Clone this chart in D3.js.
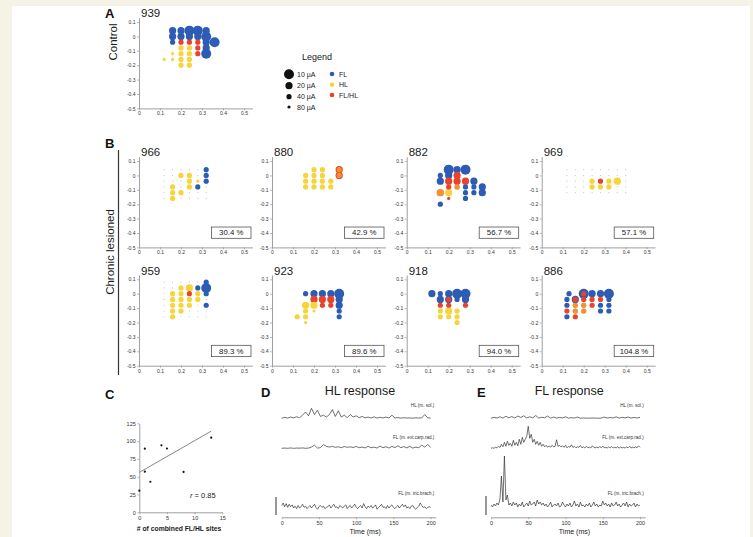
<!DOCTYPE html>
<html>
<head>
<meta charset="utf-8">
<script src="https://cdn.jsdelivr.net/npm/d3@7"></script>
<style>
  body { margin: 0; background: #f5f3e6; }
  svg text { font-family: "Liberation Sans", Arial, Helvetica, sans-serif; }
</style>
</head>
<body>
<svg id="chart"></svg>
<script>
const FL = "FL", HL = "HL", FH = "FL/HL"

// stimulation sites: [x, y, response, threshold (µA)]
const sites939 = [
  [0.16, 0.04, FL, 20], [0.16, 0, FL, 20], [0.16, -0.04, FL, 40],
  [0.2, 0.04, FL, 20], [0.2, 0, FL, 20],
  [0.24, 0.04, FL, 10], [0.24, 0, FL, 20],
  [0.28, 0.04, FL, 10], [0.28, 0, FL, 20],
  [0.32, 0.04, FL, 20], [0.32, 0, FL, 10], [0.32, -0.04, FL, 20],
  [0.36, -0.04, FL, 10], [0.32, -0.08, FL, 20], [0.32, -0.12, FL, 10],
  [0.2, -0.04, FH, 40], [0.24, -0.04, FH, 40], [0.28, -0.04, FH, 40],
  [0.28, -0.08, FH, 40], [0.28, -0.12, FH, 40],
  [0.2, -0.08, HL, 40], [0.2, -0.12, HL, 40], [0.2, -0.16, HL, 40], [0.2, -0.2, HL, 40],
  [0.16, -0.12, HL, 80], [0.16, -0.16, HL, 80], [0.12, -0.16, HL, 80],
  [0.24, -0.08, HL, 40], [0.24, -0.12, HL, 40], [0.24, -0.16, HL, 40], [0.24, -0.2, HL, 40],
]
const sites966 = [
  [0.32, 0.04, FL, 40], [0.32, 0, FL, 40], [0.32, -0.04, FL, 40], [0.28, -0.08, FL, 40],
  [0.2, 0, HL, 40], [0.24, 0, HL, 40], [0.24, -0.04, HL, 40], [0.24, -0.08, HL, 40],
  [0.28, -0.04, HL, 80], [0.16, -0.08, HL, 40], [0.16, -0.12, HL, 40],
  [0.16, -0.16, HL, 40], [0.2, -0.12, HL, 40],
]
const sites880 = [
  [0.16, 0, HL, 40], [0.16, -0.04, HL, 40], [0.16, -0.08, HL, 40],
  [0.2, 0.04, HL, 40], [0.2, 0, HL, 40], [0.2, -0.04, HL, 40], [0.2, -0.08, HL, 40],
  [0.24, 0.04, HL, 40], [0.24, 0, HL, 40], [0.24, -0.04, HL, 40], [0.24, -0.08, HL, 40],
  [0.28, -0.04, HL, 40], [0.28, -0.08, HL, 40],
  [0.32, 0.04, FH, 20], [0.32, 0, FH, 20],
  [0.32, 0.04, HL, 40], [0.32, 0, HL, 40],
]
const sites882 = [
  [0.16, 0, FL, 40], [0.16, -0.04, FL, 20], [0.2, 0.04, FL, 10], [0.2, 0, FL, 20],
  [0.24, 0.04, FL, 20], [0.28, 0.04, FL, 10],
  [0.32, -0.04, FL, 20], [0.32, -0.08, FL, 40], [0.32, -0.12, FL, 40],
  [0.36, -0.08, FL, 20], [0.36, -0.12, FL, 20],
  [0.28, -0.08, FL, 40], [0.28, -0.12, FL, 40], [0.28, -0.16, FL, 40], [0.16, -0.2, FL, 40],
  [0.24, 0, FH, 20], [0.2, -0.04, FH, 20], [0.24, -0.04, FH, 20], [0.28, -0.04, FH, 20],
  [0.2, -0.08, FH, 40], [0.24, -0.08, FH, 40], [0.16, -0.12, FH, 20], [0.2, -0.16, FH, 80],
  [0.24, -0.08, HL, 40], [0.16, -0.12, HL, 20],
  [0.2, -0.12, HL, 20],
]
const sites969 = [
  [0.24, -0.04, HL, 40], [0.24, -0.08, HL, 40], [0.28, -0.08, HL, 40],
  [0.32, -0.04, HL, 40], [0.32, -0.08, HL, 40], [0.36, -0.04, HL, 20],
  [0.28, -0.04, FH, 40],
]
const sites959 = [
  [0.32, 0.08, FL, 40], [0.32, 0.04, FL, 10], [0.28, 0.04, FL, 40],
  [0.32, 0, FL, 40], [0.32, -0.08, FL, 40],
  [0.24, 0, FH, 40],
  [0.16, 0, HL, 40], [0.16, -0.04, HL, 40], [0.16, -0.08, HL, 40],
  [0.16, -0.12, HL, 40], [0.16, -0.16, HL, 40],
  [0.2, 0.04, HL, 40], [0.2, 0, HL, 40], [0.2, -0.04, HL, 40],
  [0.2, -0.08, HL, 40], [0.2, -0.12, HL, 40],
  [0.24, 0.04, HL, 20], [0.24, -0.04, HL, 40], [0.24, -0.08, HL, 40],
  [0.28, 0, HL, 40], [0.28, -0.04, HL, 40],
]
const sites923 = [
  [0.16, 0, FL, 40], [0.2, 0, FL, 20], [0.24, 0, FL, 20], [0.28, 0, FL, 20], [0.32, 0, FL, 10],
  [0.32, -0.04, FL, 20], [0.32, -0.08, FL, 20], [0.32, -0.12, FL, 40], [0.32, -0.16, FL, 40],
  [0.2, -0.04, FH, 20], [0.24, -0.04, FH, 20], [0.28, -0.04, FH, 20],
  [0.24, -0.08, FH, 40], [0.28, -0.08, FH, 40],
  [0.16, -0.08, HL, 20], [0.2, -0.08, HL, 20], [0.16, -0.12, HL, 40], [0.2, -0.12, HL, 80],
  [0.12, -0.16, HL, 40], [0.16, -0.16, HL, 40], [0.16, -0.2, HL, 80],
]
const sites918 = [
  [0.12, 0, FL, 20], [0.16, 0, FL, 40], [0.16, -0.04, FL, 20], [0.2, 0, FL, 20],
  [0.24, 0, FL, 10], [0.28, 0, FL, 10], [0.24, -0.04, FL, 40], [0.28, -0.04, FL, 20],
  [0.2, -0.04, FL, 20],
  [0.2, -0.04, FH, 40], [0.16, -0.08, FH, 40], [0.2, -0.08, FH, 40], [0.28, -0.08, FH, 40],
  [0.16, -0.12, HL, 40], [0.2, -0.12, HL, 20], [0.24, -0.12, HL, 40],
  [0.16, -0.16, HL, 40], [0.2, -0.16, HL, 40], [0.24, -0.16, HL, 40], [0.24, -0.2, HL, 40],
]
const sites886 = [
  [0.13, 0, FL, 40], [0.2, 0, FL, 10], [0.24, 0, FL, 20], [0.28, 0, FL, 20], [0.32, 0, FL, 10],
  [0.12, -0.04, FL, 40], [0.16, -0.04, FL, 20], [0.32, -0.04, FL, 40],
  [0.12, -0.08, FL, 40], [0.28, -0.08, FL, 40], [0.32, -0.08, FL, 40],
  [0.28, -0.12, FL, 40], [0.32, -0.12, FL, 40], [0.12, -0.16, FL, 40],
  [0.2, 0, FH, 40], [0.16, -0.04, FH, 40], [0.2, -0.04, FH, 40], [0.24, -0.04, FH, 40],
  [0.28, -0.04, FH, 40], [0.16, -0.08, FH, 40], [0.2, -0.08, FH, 40], [0.24, -0.08, FH, 40],
  [0.12, -0.12, FH, 40], [0.16, -0.12, FH, 40], [0.2, -0.12, FH, 40], [0.16, -0.16, FH, 40],
  [0.16, -0.08, HL, 40], [0.2, -0.08, HL, 40], [0.16, -0.12, HL, 40], [0.2, -0.12, HL, 40],
]

// non-responsive tested grid (shown as faint dots)
const grid966 = { xs: [0.12, 0.16, 0.2, 0.24, 0.28, 0.32], ys: [0.04, 0, -0.04, -0.08, -0.12, -0.16] }
const grid969 = { xs: [0.12, 0.16, 0.2, 0.24, 0.28, 0.32, 0.36, 0.4], ys: [0.04, 0, -0.04, -0.08, -0.12] }
const grid959 = { xs: [0.12, 0.16, 0.2, 0.24, 0.28, 0.32], ys: [0.08, 0.04, 0, -0.04, -0.08, -0.12, -0.16] }

const lesionedAnimals = ["966", "880", "882", "969", "959", "923", "918", "886"]
const lesionedSites = [sites966, sites880, sites882, sites969, sites959, sites923, sites918, sites886]
const lesionedGrids = [grid966, null, null, grid969, grid959, null, null, null]
const recoveryPct = [30.4, 42.9, 56.7, 57.1, 89.3, 89.6, 94.0, 104.8]

const mapTicksX = [0, 0.1, 0.2, 0.3, 0.4, 0.5]
const mapTicksY = [0.1, 0, -0.1, -0.2, -0.3, -0.4, -0.5]

const legendCurrents = [10, 20, 40, 80]
const legendTypes = [FL, HL, FH]

// panel C
const combinedSites = [0, 2, 8, 1, 1, 5, 4, 13]
const recoveryC = [30.4, 42.9, 56.7, 57.1, 89.3, 89.6, 94.0, 104.8]
const fitLine = [[0, 56], [13, 114]]
const ticksCX = [0, 5, 10, 15]
const ticksCY = [0, 25, 50, 75, 100, 125]

// panels D / E, EMG traces (a.u.), sampled every dt ms
const emgLabels = ["HL (m. sol.)", "FL (m. ext.carp.rad.)", "FL (m. tric.brach.)"]
const hlSol_D = [0,0.8,0.2,1,0.3,1.2,0.5,2.5,5,2,8,3,6.5,1.5,2.5,1,3,7,1.5,6,1,2.5,0.5,3,1,2,0.5,1.5,0.3,1,0.2,1.2,0.2,0.8,0.3,1,0.2,2.5,0.2,0.6,0.1,0.5,0.2,0.3,0.1,0.4,0.2,0.3,3,0.3,0.2]
const flExt_D = [0,0.2,0,0.3,0,0.2,0.1,0.3,0,0.2,1,2.5,0.2,0.5,3,1.5,1,1.5,0.8,1.2,0.5,1.4,0.8,1.2,0.6,1.5,0.5,1,0.3,1.6,0.4,1,0.2,1.8,0.4,1.3,0.2,1.5,0.6,2,0.5,1.4,0.3,1.6,0.2,0.9,0.5,2.5,1,3,0.8]
const flTric_D = [2,4,1,3.5,0.5,3,1,2.5,0,1.5,-0.5,2,0,1,3,0.5,1.5,-0.5,0.8,2,0,1.5,3,0.5,-1,1,2,0.5,1.5,-0.5,0.5,1,2.5,0,1.5,3,0.5,1,-0.5,2,1,0,1.5,2.5,-0.5,1,2,0,1.5,3,0.5,-0.5,1,2,0,3.5,1,-0.5,1.5,0.5,2,0,1,2.5,-1,0.5,1.5,3,0.5,1,-0.5,2,0,1.5,2.5,0.5,-0.5,1,2,0,1.5,3,1,2.5,0,1,-0.5,1.5,2,0,-1,0.5,1.5,4,2,0.5,1,-0.5,0.5,1,0.5]
const hlSol_E = [0,1,0.3,1.5,0.2,2,0.5,1.8,0.3,2.2,0.8,2.5,0.4,1.5,0.5,2.8,0.3,1,0.6,2.2,0.2,1.2,0.3,0.8,0.4,1.5,0.2,0.6,0.3,1.2,0.1,0.3,0.2,0.1,0.3,0.2,0.1,0.2,1.2,0.2,0.8,0.3,1.5,0.2,1,0.4,1.3,0.2,0.9,0.3,1]
const flExt_E = [0,0.5,0,1,0.4, 2,0.8,4,1.5,6, 2,7,3,5,2, 8,3,6,2.5,9, 4,11,6,9,12, 22,10,14,6,9, 4,7,3,6,2, 4,1.5,3,1,2.5, 1,3,1.5,2,8.5, 2,3,1.5,2.5,1, 3,0.5,2,1,3.5, 0.8,2,0.5,1.5,1, 2.8,0.5,1.5,0.3,2, 0.6,1.2,0.4,2.5,1, 0.5,1.2,0.3,1.8,0.5, 2.2,0.4,1,0.3,1.5, 0.5,1.8,0.3,1,0.5, 1.5,0.2,1.2,0.4,0.8, 0.3,1.4,0.5,2,0.3, 1,0.4,1.6,0.5,2.5, 1]
const flTric_E = [3,1,4,2,5, 3,9,32,6,52, 8,13,3,5,2, 6,3,5,1,4, 2,6,1,3,5, 2,7,3,4,6, 2,8,4,6,3, 5,2,4,1,3, 6,1,3,4,2, 5,1,2,6,3, 1,4,2,5,1, 3,7,2,4,1, 6,2,3,1,4, 2,5,1,3,6, 2,4,1,3,2, 7,3,5,2,4, 1,5,2,3,6, 2,4,1,3,5, 2,6,1,4,2, 3,5,1,4,2, 3]
const tracesD = [{ v: hlSol_D, dt: 4 }, { v: flExt_D, dt: 4 }, { v: flTric_D, dt: 2 }]
const tracesE = [{ v: hlSol_E, dt: 4 }, { v: flExt_E, dt: 2 }, { v: flTric_E, dt: 2 }]
const timeTicks = [0, 50, 100, 150, 200]

// ---------------------------------------------------------------
const width = 753, height = 537
const ink = "#1a1a1a"
const svg = d3.select("#chart").attr("width", width).attr("height", height)
svg.append("rect").attr("width", width).attr("height", height).attr("fill", "#f5f3e6")
svg.append("rect").attr("x", 12).attr("y", 6).attr("width", 738).attr("height", height - 6).attr("fill", "#fff")

const color = d3.scaleOrdinal().domain([FL, HL, FH]).range(["#2d5cb5", "#f5d43c", "#e8432c"])
const radius = d3.scaleOrdinal().domain([10, 20, 40, 80]).range([5, 3.6, 2.6, 1.6])

const mapX = d3.scaleLinear().domain([0, 0.54]).range([0, 113.4])
const mapY = d3.scaleLinear().domain([-0.5, 0.13]).range([90.7, 0])
const fmt = d => String(+d.toFixed(1))

function styleAxis(g, fontSize) {
  g.selectAll(".domain").attr("stroke", "#888").attr("stroke-width", 0.8)
  g.selectAll(".tick line").attr("stroke", "#888").attr("stroke-width", 0.6)
  g.selectAll(".tick text").attr("font-size", fontSize).attr("fill", "#333")
    .style("font-family", "'Liberation Sans', Arial, sans-serif")
}

function drawMap(x0, y0, animal, sites, grid, pct) {
  const g = svg.append("g").attr("transform", `translate(${x0},${y0})`)

  g.append("g")
    .call(d3.axisLeft(mapY).tickValues(mapTicksY).tickSize(2).tickSizeOuter(0).tickPadding(1.5).tickFormat(fmt))
    .call(a => styleAxis(a, 5))
  g.append("g")
    .attr("transform", `translate(0,${mapY(-0.5)})`)
    .call(d3.axisBottom(mapX).tickValues(mapTicksX).tickSize(2).tickSizeOuter(0).tickPadding(1.5).tickFormat(fmt))
    .call(a => styleAxis(a, 5))

  if (grid) {
    const taken = new Set(sites.map(s => s[0] + "," + s[1]))
    const empty = d3.cross(grid.xs, grid.ys).filter(([x, y]) => !taken.has(x + "," + y))
    g.append("g").selectAll("circle")
      .data(empty)
      .join("circle")
        .attr("cx", d => mapX(d[0]))
        .attr("cy", d => mapY(d[1]))
        .attr("r", 0.6)
        .attr("fill", "#c9c9c9")
  }

  // HL responses at a site that also gave FL/HL are blended over the red dot
  const fhKeys = new Set(sites.filter(s => s[2] === FH).map(s => s[0] + "," + s[1]))
  const sorted = sites.slice().sort((a, b) => radius(b[3]) - radius(a[3]))
  g.append("g").selectAll("circle")
    .data(sorted)
    .join("circle")
      .attr("cx", d => mapX(d[0]))
      .attr("cy", d => mapY(d[1]))
      .attr("r", d => radius(d[3]))
      .attr("fill", d => color(d[2]))
      .attr("fill-opacity", d => d[2] === HL && fhKeys.has(d[0] + "," + d[1]) ? 0.55 : 1)

  g.append("text")
    .attr("x", 2)
    .attr("y", -0.5)
    .attr("font-size", 11.5)
    .attr("fill", ink)
    .text(animal)

  if (pct != null) {
    const box = g.append("g").attr("transform", `translate(72.5,${mapY(0.1) + 66})`)
    box.append("rect")
      .attr("width", 39.5).attr("height", 11.3)
      .attr("fill", "#fff").attr("stroke", "#555").attr("stroke-width", 0.8)
    box.append("text")
      .attr("x", 19.75).attr("y", 8.3)
      .attr("text-anchor", "middle")
      .attr("font-size", 7.8)
      .attr("fill", ink)
      .text(pct.toFixed(1) + " %")
  }
}

// panel letters
const letters = [["A", 105, 18], ["B", 105, 148], ["C", 105, 399], ["D", 261, 397], ["E", 477, 397]]
svg.selectAll(".letter")
  .data(letters)
  .join("text")
    .attr("class", "letter")
    .attr("x", d => d[1]).attr("y", d => d[2])
    .attr("font-size", 13).attr("font-weight", "bold").attr("fill", "#111")
    .text(d => d[0])

// A
svg.append("text")
  .attr("transform", "translate(117,42) rotate(-90)")
  .attr("text-anchor", "middle").attr("font-size", 11.5).attr("fill", ink)
  .text("Control")
drawMap(139, 17.7, "939", sites939, null, null)

// legend
const legend = svg.append("g")
legend.append("text").attr("x", 302).attr("y", 60).attr("font-size", 9).attr("fill", ink).text("Legend")
const legendRowsY = [74.3, 85.7, 96.7, 107]
legend.selectAll(".lc")
  .data(legendCurrents)
  .join("g")
    .attr("class", "lc")
    .attr("transform", (d, i) => `translate(289,${legendRowsY[i]})`)
    .call(g => g.append("circle").attr("r", d => radius(d)).attr("fill", "#111"))
    .call(g => g.append("text").attr("x", 8).attr("y", 2.5).attr("font-size", 7).attr("fill", ink).text(d => d + " µA"))
const legendTypeY = [74, 84.7, 95]
legend.selectAll(".lt")
  .data(legendTypes)
  .join("g")
    .attr("class", "lt")
    .attr("transform", (d, i) => `translate(332,${legendTypeY[i]})`)
    .call(g => g.append("circle").attr("r", 2.3).attr("fill", d => color(d)))
    .call(g => g.append("text").attr("x", 7).attr("y", 2.5).attr("font-size", 7).attr("fill", ink).text(d => d))

// B
svg.append("line")
  .attr("x1", 118.5).attr("x2", 118.5).attr("y1", 150).attr("y2", 375)
  .attr("stroke", "#333").attr("stroke-width", 1.2)
svg.append("text")
  .attr("transform", "translate(114,252) rotate(-90)")
  .attr("text-anchor", "middle").attr("font-size", 11.5).attr("fill", ink)
  .text("Chronic lesioned")
const colX = [139, 272, 406.7, 541.7]
const rowY = [156.7, 275]
lesionedAnimals.forEach((a, i) => {
  drawMap(colX[i % 4], rowY[Math.floor(i / 4)], a, lesionedSites[i], lesionedGrids[i], recoveryPct[i])
})

// C
const xC = d3.scaleLinear().domain([0, 15]).range([139.3, 222.3])
const yC = d3.scaleLinear().domain([0, 125]).range([512.3, 423.3])
svg.append("g")
  .attr("transform", `translate(${xC(0)},0)`)
  .call(d3.axisLeft(yC).tickValues(ticksCY).tickSize(2).tickSizeOuter(0).tickPadding(1.5))
  .call(a => styleAxis(a, 5.5))
svg.append("g")
  .attr("transform", `translate(0,${yC(0)})`)
  .call(d3.axisBottom(xC).tickValues(ticksCX).tickSize(2).tickSizeOuter(0).tickPadding(1.5))
  .call(a => styleAxis(a, 5.5))
svg.append("path")
  .datum(fitLine)
  .attr("fill", "none").attr("stroke", "#777").attr("stroke-width", 0.9)
  .attr("d", d3.line().x(d => xC(d[0])).y(d => yC(d[1])))
svg.append("g").selectAll("circle")
  .data(d3.zip(combinedSites, recoveryC))
  .join("circle")
    .attr("cx", d => xC(d[0])).attr("cy", d => yC(d[1]))
    .attr("r", 1.1).attr("fill", "#111")
const rText = svg.append("text").attr("x", 190).attr("y", 498).attr("font-size", 7.5).attr("fill", ink)
rText.append("tspan").attr("font-style", "italic").text("r")
rText.append("tspan").text(" = 0.85")
svg.append("text")
  .attr("x", 179).attr("y", 531).attr("text-anchor", "middle")
  .attr("font-size", 6.8).attr("font-weight", "bold").attr("fill", ink)
  .text("# of combined FL/HL sites")

// D / E
const traceBase = [418.3, 448.3, 508]
const labelY = [407, 439, 495]

function drawEmg(x0, title, traces, gain, scaleBarX, scaleBarY) {
  const x = d3.scaleLinear().domain([0, 207]).range([x0, x0 + 154.2])
  const amp = d3.scaleLinear().domain([0, 10]).range([0, -10 * gain])
  svg.append("text")
    .attr("x", x(105)).attr("y", 395).attr("text-anchor", "middle")
    .attr("font-size", 12.5).attr("fill", ink)
    .text(title)

  traces.forEach((tr, i) => {
    svg.append("path")
      .datum(tr.v)
      .attr("fill", "none").attr("stroke", "#333").attr("stroke-width", 0.7)
      .attr("stroke-linejoin", "round")
      .attr("d", d3.line().x((d, j) => x(j * tr.dt)).y(d => traceBase[i] + amp(d)))
    svg.append("text")
      .attr("x", x(205)).attr("y", labelY[i]).attr("text-anchor", "end")
      .attr("font-size", 4.6).attr("fill", "#333")
      .text(emgLabels[i])
  })

  svg.append("line")
    .attr("x1", scaleBarX).attr("x2", scaleBarX)
    .attr("y1", scaleBarY[0]).attr("y2", scaleBarY[1])
    .attr("stroke", "#333").attr("stroke-width", 1)

  svg.append("g")
    .attr("transform", "translate(0,517.3)")
    .call(d3.axisBottom(x).tickValues(timeTicks).tickSize(2).tickSizeOuter(0).tickPadding(1.5))
    .call(a => styleAxis(a, 5.5))
  svg.append("text")
    .attr("x", x(112)).attr("y", 534).attr("text-anchor", "middle")
    .attr("font-size", 7).attr("fill", ink)
    .text("Time (ms)")
}

drawEmg(281.7, "HL response", tracesD, 1.25, 276, [497, 515])
drawEmg(491, "FL response", tracesE, 1, 486, [496, 515])
</script>
</body>
</html>
